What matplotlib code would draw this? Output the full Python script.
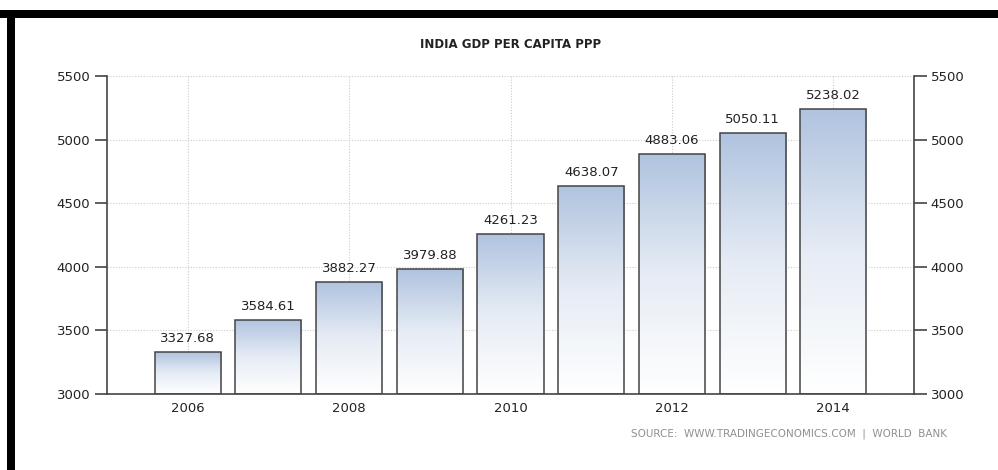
import numpy as np
import matplotlib
matplotlib.use("Agg")
import matplotlib.pyplot as plt
from matplotlib.patches import Rectangle
from matplotlib.colors import LinearSegmentedColormap

# ----------------------------------
# Data
# ----------------------------------
years = [2006, 2007, 2008, 2009, 2010, 2011, 2012, 2013, 2014]
gdp_ppp = [3327.68, 3584.61, 3882.27, 3979.88, 4261.23, 4638.07, 4883.06, 5050.11, 5238.02]
x_ticks = [2006, 2008, 2010, 2012, 2014]
y_ticks = [3000, 3500, 4000, 4500, 5000, 5500]

plt.rcParams["font.family"] = ["DejaVu Sans"]

fig = plt.figure(figsize=(9.98, 4.70), dpi=100)
ax = fig.add_axes([107 / 998, 1 - 394 / 470, (914 - 107) / 998, (394 - 76) / 470])

ax.set_xlim(2005, 2015)
ax.set_ylim(3000, 5500)

# grid
ax.set_yticks(y_ticks)
ax.set_xticks(x_ticks)
ax.grid(True, color="#cccccc", linestyle=(0, (1, 1.5)), linewidth=0.8)
ax.set_axisbelow(True)

# gradient bars
cmap = LinearSegmentedColormap.from_list("bar", ["#ffffff", "#e6ecf5", "#b0c3df"])
grad = np.linspace(0, 1, 256).reshape(-1, 1)
bars = ax.bar(years, [v - 3000 for v in gdp_ppp], bottom=3000, width=0.82,
              facecolor="none", edgecolor="#444444", linewidth=1.1, zorder=3)
for bar, val in zip(bars, gdp_ppp):
    x0 = bar.get_x()
    w = bar.get_width()
    im = ax.imshow(grad, extent=[x0, x0 + w, 3000, val], origin="lower",
                   cmap=cmap, aspect="auto", zorder=2)
    im.set_clip_path(bar)
    ax.text(x0 + w / 2, val + 55, f"{val:.2f}", ha="center", va="bottom",
            fontsize=9.5, color="#222222")

ax.set_xlim(2005, 2015)
ax.set_ylim(3000, 5500)

# axes styling
ax.spines["top"].set_visible(False)
for side in ["left", "right", "bottom"]:
    ax.spines[side].set_color("#444444")
    ax.spines[side].set_linewidth(1.2)
ax.tick_params(axis="y", which="both", left=True, right=True, labelleft=True,
               labelright=True, length=9, width=1.2, color="#444444",
               labelsize=9.5, labelcolor="#222222", direction="out", pad=3)
ax.tick_params(axis="x", length=5, width=1.2, color="#444444", direction="in",
               labelsize=9.5, labelcolor="#222222", pad=6)

fig.text(511 / 998, 1 - 44 / 470, "INDIA GDP PER CAPITA PPP", ha="center",
         va="center", fontsize=8.5, fontweight="bold", color="#222222")
fig.text(947 / 998, 1 - 434 / 470, "SOURCE:  WWW.TRADINGECONOMICS.COM  |  WORLD  BANK",
         ha="right", va="center", fontsize=7.5, color="#909090")

# black frame
fig.patches.append(Rectangle((0, 1 - 18 / 470), 1, 8 / 470, transform=fig.transFigure,
                             facecolor="black", edgecolor="none", figure=fig))
fig.patches.append(Rectangle((7 / 998, 0), 8 / 998, 1 - 10 / 470, transform=fig.transFigure,
                             facecolor="black", edgecolor="none", figure=fig))

plt.savefig("out.png", dpi=100)
